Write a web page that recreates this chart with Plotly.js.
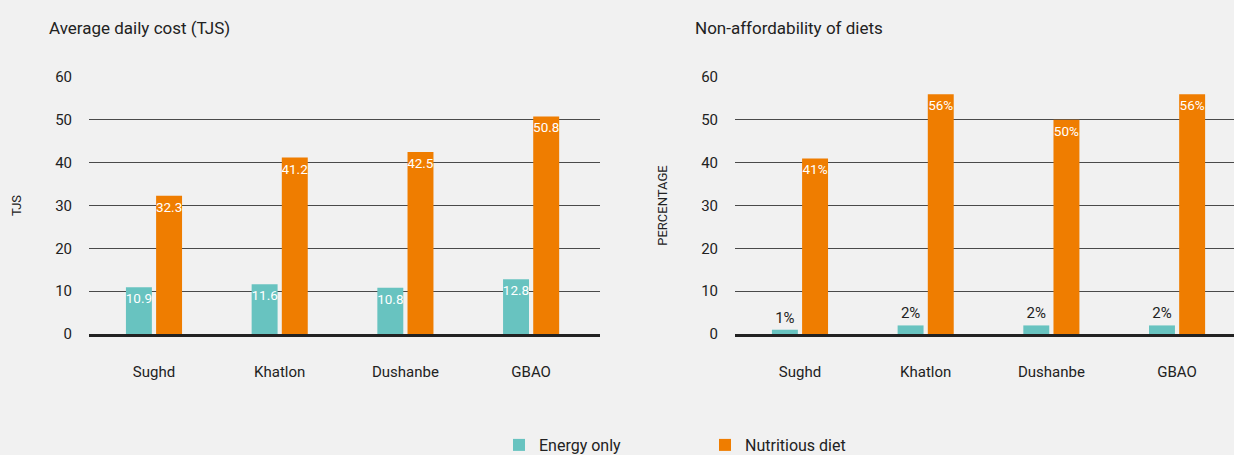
<!DOCTYPE html>
<html>
<head>
<meta charset="utf-8">
<script src="https://cdn.plot.ly/plotly-3.0.1.min.js"></script>
<style>
html,body{margin:0;padding:0;background:#f1f1f1;}
#chart{width:1234px;height:455px;}
</style>
</head>
<body>
<div id="chart"></div>
<script>
const regions = ["Sughd", "Khatlon", "Dushanbe", "GBAO"];
const costEnergy = [10.9, 11.6, 10.8, 12.8];
const costNutritious = [32.3, 41.2, 42.5, 50.8];
const nonAffEnergy = [1, 2, 2, 2];
const nonAffNutritious = [41, 56, 50, 56];
const yTicks = [0, 10, 20, 30, 40, 50, 60];

const FONT = 'Roboto, "Liberation Sans", sans-serif';
const TEAL = '#68c3c0';
const ORANGE = '#ef7d00';
const DARK = '#222222';

const traces = [
  {type:'bar', name:'Energy only', x:regions, y:costEnergy, xaxis:'x', yaxis:'y',
   marker:{color:TEAL}, text:costEnergy.map(v=>v.toFixed(1)), textposition:'inside',
   insidetextanchor:'end', constraintext:'none', textangle:0,
   textfont:{family:FONT, size:13.5, color:'#ffffff'}, hoverinfo:'skip', legendgroup:'e'},
  {type:'bar', name:'Nutritious diet', x:regions, y:costNutritious, xaxis:'x', yaxis:'y',
   marker:{color:ORANGE}, text:costNutritious.map(v=>v.toFixed(1)), textposition:'inside',
   insidetextanchor:'end', constraintext:'none', textangle:0,
   textfont:{family:FONT, size:13.5, color:'#ffffff'}, hoverinfo:'skip', legendgroup:'n'},
  {type:'bar', name:'Energy only', x:regions, y:nonAffEnergy, xaxis:'x2', yaxis:'y2',
   marker:{color:TEAL}, text:nonAffEnergy.map(v=>v+'%'), textposition:'outside',
   constraintext:'none', textangle:0, cliponaxis:false,
   textfont:{family:FONT, size:15, color:DARK}, hoverinfo:'skip', showlegend:false, legendgroup:'e'},
  {type:'bar', name:'Nutritious diet', x:regions, y:nonAffNutritious, xaxis:'x2', yaxis:'y2',
   marker:{color:ORANGE}, text:nonAffNutritious.map(v=>v+'%'), textposition:'inside',
   insidetextanchor:'end', constraintext:'none', textangle:0,
   textfont:{family:FONT, size:13.5, color:'#ffffff'}, hoverinfo:'skip', showlegend:false, legendgroup:'n'}
];

const W = 1234, H = 455;
const yDom = [(H-334)/H, (H-77)/H];

const yaxisBase = {
  range:[0, 60], tickvals:yTicks, ticktext:yTicks.map(String), showgrid:true,
  gridcolor:'#4a4a4a', gridwidth:1, zeroline:false, showline:false, ticks:'',
  ticklabelstandoff:16, tickfont:{family:FONT, size:15, color:DARK}, fixedrange:true,
  domain:yDom
};
const xaxisBase = {
  showgrid:false, zeroline:false, showline:true, linecolor:DARK, linewidth:3,
  ticks:'', ticklabelstandoff:22, tickfont:{family:FONT, size:15, color:DARK}, fixedrange:true
};

const layout = {
  width:W, height:H,
  paper_bgcolor:'#f1f1f1', plot_bgcolor:'#f1f1f1',
  margin:{l:0, r:0, t:0, b:0, autoexpand:false},
  barmode:'group', bargap:0.52, bargroupgap:0.14,
  font:{family:FONT, color:DARK},
  xaxis:Object.assign({}, xaxisBase, {domain:[89/W, 600/W], range:[-0.517, 3.548], anchor:'y'}),
  yaxis:Object.assign({}, yaxisBase, {anchor:'x',
    title:{text:'TJS', font:{family:FONT, size:13, color:DARK}, standoff:30}}),
  xaxis2:Object.assign({}, xaxisBase, {domain:[735/W, 1], range:[-0.517, 3.453], anchor:'y2'}),
  yaxis2:Object.assign({}, yaxisBase, {anchor:'x2',
    title:{text:'PERCENTAGE', font:{family:FONT, size:13, color:DARK}, standoff:30}}),
  showlegend:true,
  legend:{orientation:'h', x:499/W, xanchor:'left', y:(H-445)/H, yanchor:'middle',
    font:{family:FONT, size:16, color:DARK}, bgcolor:'rgba(0,0,0,0)',
    entrywidth:161, entrywidthmode:'pixels', itemclick:false, itemdoubleclick:false},
  annotations:[
    {text:'Average daily cost (TJS)', xref:'paper', yref:'paper', x:47/W, y:(H-28)/H,
     xanchor:'left', yanchor:'middle', showarrow:false, font:{family:FONT, size:17, color:DARK}},
    {text:'Non-affordability of diets', xref:'paper', yref:'paper', x:693/W, y:(H-28)/H,
     xanchor:'left', yanchor:'middle', showarrow:false, font:{family:FONT, size:17, color:DARK}}
  ]
};

Plotly.newPlot('chart', traces, layout, {displayModeBar:false, staticPlot:true});
</script>
</body>
</html>
